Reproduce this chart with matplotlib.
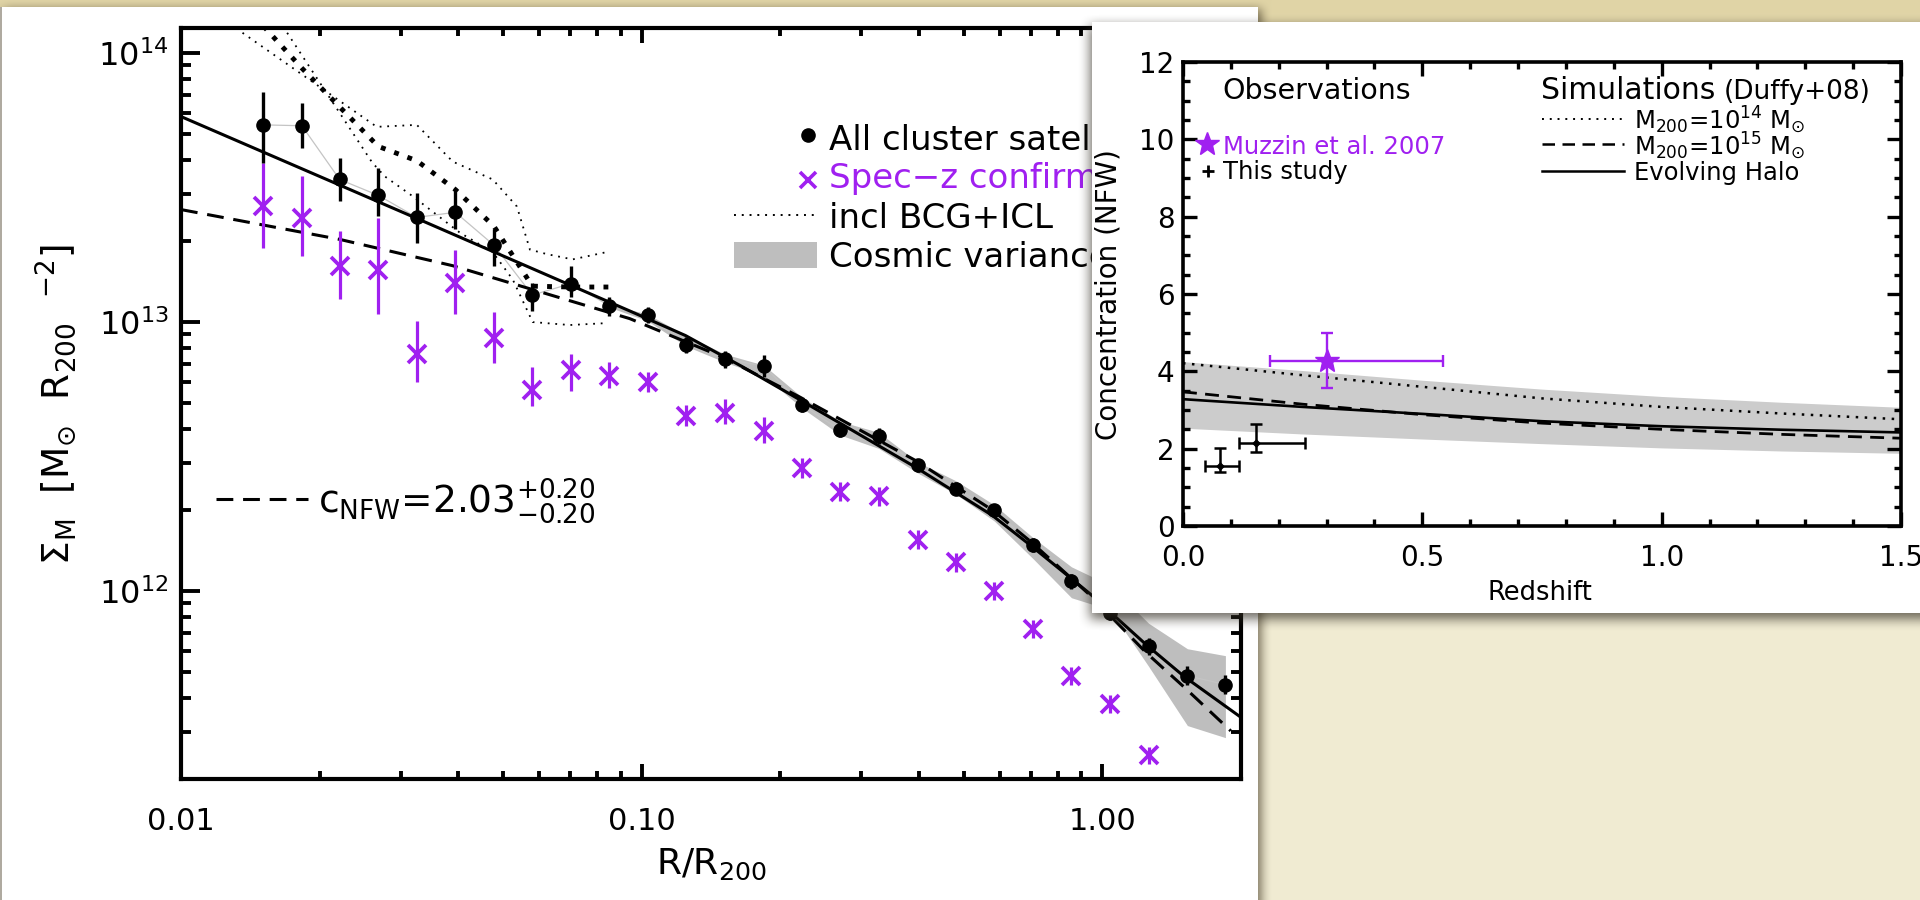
import numpy as np
import matplotlib
matplotlib.use("Agg")
import matplotlib.pyplot as plt
from matplotlib.lines import Line2D
from matplotlib.patches import Rectangle
from matplotlib.transforms import Bbox
from matplotlib.ticker import (FixedLocator, FixedFormatter, LogLocator,
                               NullFormatter, MultipleLocator)

plt.rcParams['font.family'] = ['DejaVu Sans']
plt.rcParams['mathtext.fontset'] = 'dejavusans'

PURPLE = '#A020F0'

# ---------------- surface mass density profile (R / R200) ----------------
radius = [0.0151, 0.0183, 0.0221, 0.0268, 0.0325, 0.0394, 0.0478, 0.0579,
          0.0702, 0.0851, 0.103, 0.125, 0.152, 0.184, 0.223, 0.270, 0.327,
          0.397, 0.481, 0.583, 0.707, 0.857, 1.04, 1.26, 1.53, 1.85]

# all cluster satellites
sigma_all = [5.41e13, 5.37e13, 3.39e13, 2.96e13, 2.45e13, 2.56e13, 1.93e13,
             1.26e13, 1.39e13, 1.15e13, 1.06e13, 8.22e12, 7.29e12, 6.87e12,
             4.92e12, 3.96e12, 3.77e12, 2.93e12, 2.40e12, 2.00e12, 1.48e12,
             1.09e12, 8.3e11, 6.24e11, 4.84e11, 4.49e11]
sigma_all_lo = [3.90e13, 4.44e13, 2.81e13, 2.48e13, 1.97e13, 2.21e13, 1.62e13,
                1.10e13, 1.24e13, 1.05e13, 9.9e12, 7.67e12, 6.76e12, 6.27e12,
                4.65e12, 3.74e12, 3.52e12, 2.77e12, 2.27e12, 1.88e12, 1.40e12,
                1.02e12, 7.8e11, 5.8e11, 4.47e11, 4.14e11]
sigma_all_hi = [7.19e13, 6.52e13, 4.07e13, 3.74e13, 3.02e13, 3.16e13, 2.21e13,
                1.40e13, 1.62e13, 1.24e13, 1.14e13, 8.81e12, 7.82e12, 7.53e12,
                5.21e12, 4.20e12, 4.04e12, 3.10e12, 2.55e12, 2.11e12, 1.57e12,
                1.16e12, 8.9e11, 6.7e11, 5.25e11, 4.86e11]

# spectroscopically confirmed members
sigma_spec = [2.70e13, 2.44e13, 1.62e13, 1.56e13, 7.60e12, 1.40e13, 8.71e12,
              5.60e12, 6.61e12, 6.31e12, 5.97e12, 4.49e12, 4.61e12, 3.94e12,
              2.86e12, 2.34e12, 2.25e12, 1.55e12, 1.28e12, 1.00e12, 7.23e11,
              4.84e11, 3.81e11, 2.45e11, 1.75e11, 1.75e11]
sigma_spec_lo = [1.89e13, 1.76e13, 1.22e13, 1.07e13, 6.0e12, 1.07e13, 7.05e12,
                 4.89e12, 5.56e12, 5.70e12, 5.50e12, 4.12e12, 4.17e12, 3.55e12,
                 2.63e12, 2.16e12, 2.07e12, 1.43e12, 1.18e12, 9.27e11, 6.70e11,
                 4.49e11, 3.53e11, 2.27e11, 1.62e11, 1.62e11]
sigma_spec_hi = [3.90e13, 3.48e13, 2.18e13, 2.44e13, 1.01e13, 1.86e13, 1.09e13,
                 6.81e12, 7.60e12, 7.08e12, 6.53e12, 4.90e12, 5.19e12, 4.42e12,
                 3.13e12, 2.54e12, 2.44e12, 1.68e12, 1.38e12, 1.08e12, 7.80e11,
                 5.22e11, 4.11e11, 2.64e11, 1.89e11, 1.89e11]

# cosmic variance envelope
band_radius = [0.0851, 0.103, 0.125, 0.152, 0.184, 0.223, 0.270, 0.327, 0.397,
               0.481, 0.583, 0.707, 0.857, 1.04, 1.26, 1.53, 1.85]
band_lo = [1.135e13, 1.01e13, 8.13e12, 7.08e12, 6.31e12, 4.79e12, 3.80e12,
           3.39e12, 2.75e12, 2.29e12, 1.82e12, 1.32e12, 9.44e11, 8.51e11,
           5.25e11, 3.16e11, 2.85e11]
band_hi = [1.16e13, 1.07e13, 8.91e12, 7.59e12, 6.92e12, 5.25e12, 4.27e12,
           3.89e12, 3.02e12, 2.57e12, 2.09e12, 1.58e12, 1.23e12, 1.05e12,
           7.59e11, 6.10e11, 5.75e11]

# including BCG + ICL: central curve and its envelope
bcg_radius = radius[:10]
bcg_sigma = [1.26e14, 8.79e13, 6.31e13, 4.50e13, 3.98e13, 3.11e13, 2.27e13,
             1.36e13, 1.35e13, 1.35e13]
bcg_up_radius = [0.0136, 0.0266, 0.0325, 0.0389, 0.0475, 0.0536, 0.0572,
                 0.0622, 0.0708, 0.0839]
bcg_up_sigma = [1.19e14, 5.32e13, 5.41e13, 3.95e13, 3.39e13, 2.69e13, 1.86e13,
                1.79e13, 1.71e13, 1.82e13]
bcg_dn_radius = [0.0170, 0.0260, 0.0277, 0.0319, 0.0403, 0.0475, 0.0525,
                 0.0580, 0.0698, 0.0839]
bcg_dn_sigma = [1.19e14, 3.92e13, 3.48e13, 2.93e13, 2.15e13, 1.82e13, 1.44e13,
                1.00e13, 9.75e12, 9.91e12]

# best-fit profile (solid) and NFW with c = 2.03 (dashed)
fit_radius = [0.01, 0.0316, 0.0942, 0.1245, 0.165, 0.221, 0.394, 0.577, 0.698,
              0.94, 1.246, 1.51, 2.0]
fit_sigma = [5.81e13, 2.48e13, 1.10e13, 8.91e12, 6.84e12, 5.13e12, 2.88e12,
             1.91e12, 1.48e12, 9.77e11, 6.31e11, 4.79e11, 3.39e11]
nfw_radius = [0.01, 0.0221, 0.0389, 0.0942, 0.15, 0.221, 0.394, 0.577, 0.698,
              0.94, 1.246, 1.51, 1.9]
nfw_sigma = [2.62e13, 2.03e13, 1.62e13, 1.03e13, 7.41e12, 5.25e12, 3.05e12,
             2.0e12, 1.53e12, 9.66e11, 5.89e11, 4.37e11, 3.02e11]

x_ticks = [0.01, 0.1, 1.0]
x_tick_labels = ['0.01', '0.10', '1.00']
y_ticks = [1e12, 1e13, 1e14]
y_tick_labels = [r'$10^{12}$', r'$10^{13}$', r'$10^{14}$']

# ---------------- concentration vs redshift ----------------
z_grid = [0.0, 0.25, 0.5, 0.75, 1.0, 1.25, 1.5]
c_m14 = [4.21, 3.90, 3.60, 3.30, 3.08, 2.91, 2.76]
c_m15 = [3.47, 3.15, 2.88, 2.66, 2.50, 2.37, 2.27]
c_evolving = [3.28, 3.08, 2.90, 2.71, 2.58, 2.49, 2.42]
c_band_lo = [2.53, 2.38, 2.25, 2.13, 2.02, 1.94, 1.88]
c_band_hi = [4.25, 4.02, 3.77, 3.54, 3.35, 3.20, 3.07]

muzzin_z, muzzin_z_lo, muzzin_z_hi = [0.30], [0.182], [0.543]
muzzin_c, muzzin_c_lo, muzzin_c_hi = [4.28], [3.57], [4.99]
study_z, study_z_lo, study_z_hi = [0.077, 0.152], [0.046, 0.116], [0.117, 0.255]
study_c, study_c_lo, study_c_hi = [1.55, 2.14], [1.40, 1.92], [2.01, 2.64]

# ======================================================================
W, H = 1920, 900
fig = plt.figure(figsize=(W / 100, H / 100), dpi=100)
tf = fig.transFigure


def fxy(x, y):
    """pixel position (from top-left) -> figure fraction"""
    return x / W, 1 - y / H


def blur(a, r):
    for axis in (0, 1):
        pad = [(0, 0), (0, 0)]
        pad[axis] = (r + 1, r)
        p = np.pad(a, pad, mode='edge')
        c = np.cumsum(p, axis=axis)
        if axis == 0:
            a = (c[2 * r + 1:] - c[:-2 * r - 1]) / (2 * r + 1)
        else:
            a = (c[:, 2 * r + 1:] - c[:, :-2 * r - 1]) / (2 * r + 1)
    return a


def card_mask(x0, x1, y0, y1):
    m = np.zeros((H, W))
    m[max(y0, 0):min(y1, H), max(x0, 0):min(x1, W)] = 1.0
    return m


# ---- paper background with the main card and its shadow ----
t = np.linspace(0, 1, H)[:, None, None]
paper_top = np.array([224, 212, 166]) / 255
paper_bot = np.array([240, 235, 210]) / 255
bg = paper_top + (paper_bot - paper_top) * np.clip(t * 1.6, 0, 1)
bg = np.broadcast_to(bg, (H, W, 3)).copy()
sh = blur(blur(card_mask(4, 1262, 9, 905), 5), 5) * 0.65
bg = bg * (1 - sh[..., None]) + np.array([70, 60, 40]) / 255 * sh[..., None]
bg[card_mask(1, 1258, 7, 900) > 0] = 1.0
bg[7:900, 0:2] = np.array([175, 170, 160]) / 255

ax_bg = fig.add_axes([0, 0, 1, 1], zorder=0)
ax_bg.imshow(bg, extent=[0, W, H, 0], interpolation='none', aspect='auto')
ax_bg.set_axis_off()

# ---- main panel ----
ax = fig.add_axes([181 / W, 1 - 779 / H, 1060 / W, 751 / H], zorder=1)
ax.set_facecolor('none')
ax.set_xscale('log')
ax.set_yscale('log')
ax.set_xlim(0.01, 2.0)
ax.set_ylim(2e11, 1.24e14)

ax.fill_between(band_radius, band_lo, band_hi, color='#BEBEBE', lw=0, zorder=1)
ax.plot(radius, sigma_all, color='#C4C4C4', lw=0.9, zorder=1.5)
ax.plot(bcg_up_radius, bcg_up_sigma, color='k', lw=1.3, ls=(0, (1, 3.2)), zorder=2)
ax.plot(bcg_dn_radius, bcg_dn_sigma, color='k', lw=1.3, ls=(0, (1, 3.2)), zorder=2)
ax.plot(bcg_radius, bcg_sigma, color='k', lw=3.5, ls=(0, (1, 1.9)), zorder=2)
ax.plot(fit_radius, fit_sigma, color='k', lw=2.2, zorder=3)
ax.plot(nfw_radius, nfw_sigma, color='k', lw=2.2, ls=(0, (5.5, 3.2)), zorder=3)

s_all = np.array(sigma_all)
ax.errorbar(radius, s_all,
            yerr=[s_all - np.array(sigma_all_lo), np.array(sigma_all_hi) - s_all],
            fmt='o', color='k', ms=9.5, elinewidth=2.4, capsize=0, zorder=5)
s_sp = np.array(sigma_spec)
ax.errorbar(radius, s_sp,
            yerr=[s_sp - np.array(sigma_spec_lo), np.array(sigma_spec_hi) - s_sp],
            fmt='x', color=PURPLE, ms=12.5, mew=2.7, elinewidth=2.3, capsize=0,
            zorder=4)

ax.xaxis.set_major_locator(FixedLocator(x_ticks))
ax.xaxis.set_major_formatter(FixedFormatter(x_tick_labels))
ax.xaxis.set_minor_locator(LogLocator(base=10, subs=np.arange(2, 10)))
ax.xaxis.set_minor_formatter(NullFormatter())
ax.yaxis.set_major_locator(FixedLocator(y_ticks))
ax.yaxis.set_major_formatter(FixedFormatter(y_tick_labels))
ax.yaxis.set_minor_locator(LogLocator(base=10, subs=np.arange(2, 10)))
ax.yaxis.set_minor_formatter(NullFormatter())
for s in ax.spines.values():
    s.set_linewidth(3)
ax.tick_params(which='both', direction='in', top=True, right=True, width=2.8)
ax.tick_params(axis='x', which='major', length=11, labelsize=22, pad=20)
ax.tick_params(axis='x', which='minor', length=6)
ax.tick_params(axis='y', which='major', length=14, labelsize=23, pad=9)
ax.tick_params(axis='y', which='minor', length=7.5)

fig.text(*fxy(711, 874), r'R/R$_{200}$', ha='center', va='baseline', fontsize=26)
fig.text(*fxy(56, 405), r'$\Sigma_{\rm M}$  [M$_{\odot}$  R$_{200}$  $^{-2}$]',
         rotation=90, ha='center', va='center', fontsize=27)

# legend of the main panel (its right end disappears under the inset card)
legend_clip = Bbox.from_extents(0, 0, 1092, H)
ax.add_line(Line2D(*zip(fxy(808, 135)), marker='o', ms=9.5, color='k', ls='none',
                   transform=tf, clip_on=False))
ax.add_line(Line2D(*zip(fxy(808, 180)), marker='x', ms=11.5, mew=2.6, color=PURPLE,
                   ls='none', transform=tf, clip_on=False))
ax.add_line(Line2D(*zip(fxy(734, 215), fxy(815, 215)), color='k', lw=1.4,
                   ls=(0, (1, 3)), transform=tf, clip_on=False))
ax.add_patch(Rectangle(fxy(734, 268), 83 / W, 26 / H, color='#BEBEBE', lw=0,
                       transform=tf, clip_on=False))
legend_rows = [('All cluster satellites', 'k', 150),
               ('Spec\u2212z confirmed', PURPLE, 188),
               ('incl BCG+ICL', 'k', 228),
               ('Cosmic variance', 'k', 267)]
for label, col, yb in legend_rows:
    txt = ax.text(*fxy(829, yb), label, color=col, fontsize=24.5, ha='left',
                  va='baseline', transform=tf)
    txt.set_clip_box(legend_clip)
    txt.set_clip_on(True)

ax.add_line(Line2D(*zip(fxy(216, 499), fxy(308, 499)), color='k', lw=2.2,
                   ls=(0, (5.5, 3.2)), transform=tf, clip_on=False))
ax.text(*fxy(318, 512), r'c$_{\rm NFW}$=2.03$^{+0.20}_{-0.20}$', fontsize=27,
        ha='left', va='baseline', transform=tf)

# ---- inset card (with soft shadow) ----
over = np.zeros((H, W, 4))
ish = blur(blur(card_mask(1090, 1925, 26, 619), 6), 6) * 0.7
over[..., :3] = np.array([50, 45, 35]) / 255
over[..., 3] = ish
card = card_mask(1092, 1920, 22, 613) > 0
over[card] = [1, 1, 1, 1]
ax_ov = fig.add_axes([0, 0, 1, 1], zorder=2)
ax_ov.imshow(over, extent=[0, W, H, 0], interpolation='none', aspect='auto')
ax_ov.set_axis_off()

axi = fig.add_axes([1183 / W, 1 - 526 / H, 718 / W, 464 / H], zorder=3)
axi.set_facecolor('none')
axi.set_xlim(0, 1.5)
axi.set_ylim(0, 12)
axi.fill_between(z_grid, c_band_lo, c_band_hi, color='#CCCCCC', lw=0, zorder=1)
axi.plot(z_grid, c_m14, color='k', lw=1.8, ls=(0, (1, 2.6)), zorder=2)
axi.plot(z_grid, c_m15, color='k', lw=2.0, ls=(0, (5, 3)), zorder=2)
axi.plot(z_grid, c_evolving, color='k', lw=1.9, zorder=2)

mz, mc = np.array(muzzin_z), np.array(muzzin_c)
axi.errorbar(mz, mc,
             xerr=[mz - np.array(muzzin_z_lo), np.array(muzzin_z_hi) - mz],
             yerr=[mc - np.array(muzzin_c_lo), np.array(muzzin_c_hi) - mc],
             fmt='*', color=PURPLE, ms=18, elinewidth=1.7, capsize=4,
             capthick=1.7, zorder=4)
sz, sc = np.array(study_z), np.array(study_c)
axi.errorbar(sz, sc,
             xerr=[sz - np.array(study_z_lo), np.array(study_z_hi) - sz],
             yerr=[sc - np.array(study_c_lo), np.array(study_c_hi) - sc],
             fmt='D', color='k', ms=3.5, elinewidth=1.8, capsize=4,
             capthick=1.8, zorder=4)

axi.xaxis.set_major_locator(FixedLocator([0.0, 0.5, 1.0, 1.5]))
axi.xaxis.set_major_formatter(FixedFormatter(['0.0', '0.5', '1.0', '1.5']))
axi.xaxis.set_minor_locator(MultipleLocator(0.1))
axi.yaxis.set_major_locator(MultipleLocator(2))
axi.yaxis.set_minor_locator(MultipleLocator(0.5))
for s in axi.spines.values():
    s.set_linewidth(2.6)
axi.tick_params(which='both', direction='in', top=True, right=True, width=2.4)
axi.tick_params(which='major', length=10, labelsize=20)
axi.tick_params(which='minor', length=5)
axi.tick_params(axis='x', pad=13)
axi.tick_params(axis='y', pad=6)

fig.text(*fxy(1540, 600), 'Redshift', ha='center', va='baseline', fontsize=18.5)
fig.text(*fxy(1108, 295), 'Concentration (NFW)', rotation=90, ha='center',
         va='center', fontsize=20)

# inset legend
fig.text(*fxy(1222, 99), 'Observations', fontsize=20.5, ha='left', va='baseline',
         zorder=5)
fig.text(*fxy(1541, 99), 'Simulations', fontsize=21.5, ha='left', va='baseline',
         zorder=5)
fig.text(*fxy(1724, 99), '(Duffy+08)', fontsize=19, ha='left', va='baseline',
         zorder=5)
axi.add_line(Line2D(*zip(fxy(1207, 144)), marker='*', ms=18, color=PURPLE,
                    ls='none', transform=tf, clip_on=False))
axi.add_line(Line2D(*zip(fxy(1208, 171)), marker='+', ms=9, mew=2, color='k',
                    ls='none', transform=tf, clip_on=False))
fig.text(*fxy(1223, 154), 'Muzzin et al. 2007', color=PURPLE, fontsize=17.5,
         ha='left', va='baseline', zorder=5)
fig.text(*fxy(1223, 179), 'This study', fontsize=17.5, ha='left', va='baseline',
         zorder=5)

axi.add_line(Line2D(*zip(fxy(1542, 119), fxy(1624, 119)), color='k', lw=1.4,
                    ls=(0, (1, 3)), transform=tf, clip_on=False))
axi.add_line(Line2D(*zip(fxy(1542, 144), fxy(1624, 144)), color='k', lw=1.8,
                    ls=(0, (5, 3)), transform=tf, clip_on=False))
axi.add_line(Line2D(*zip(fxy(1542, 171), fxy(1624, 171)), color='k', lw=1.8,
                    transform=tf, clip_on=False))
fig.text(*fxy(1634, 129), r'M$_{200}$=10$^{14}$ M$_{\odot}$', fontsize=17.5,
         ha='left', va='baseline', zorder=5)
fig.text(*fxy(1634, 155), r'M$_{200}$=10$^{15}$ M$_{\odot}$', fontsize=17.5,
         ha='left', va='baseline', zorder=5)
fig.text(*fxy(1634, 180), 'Evolving Halo', fontsize=17.5, ha='left',
         va='baseline', zorder=5)

fig.savefig('out.png', dpi=100)
